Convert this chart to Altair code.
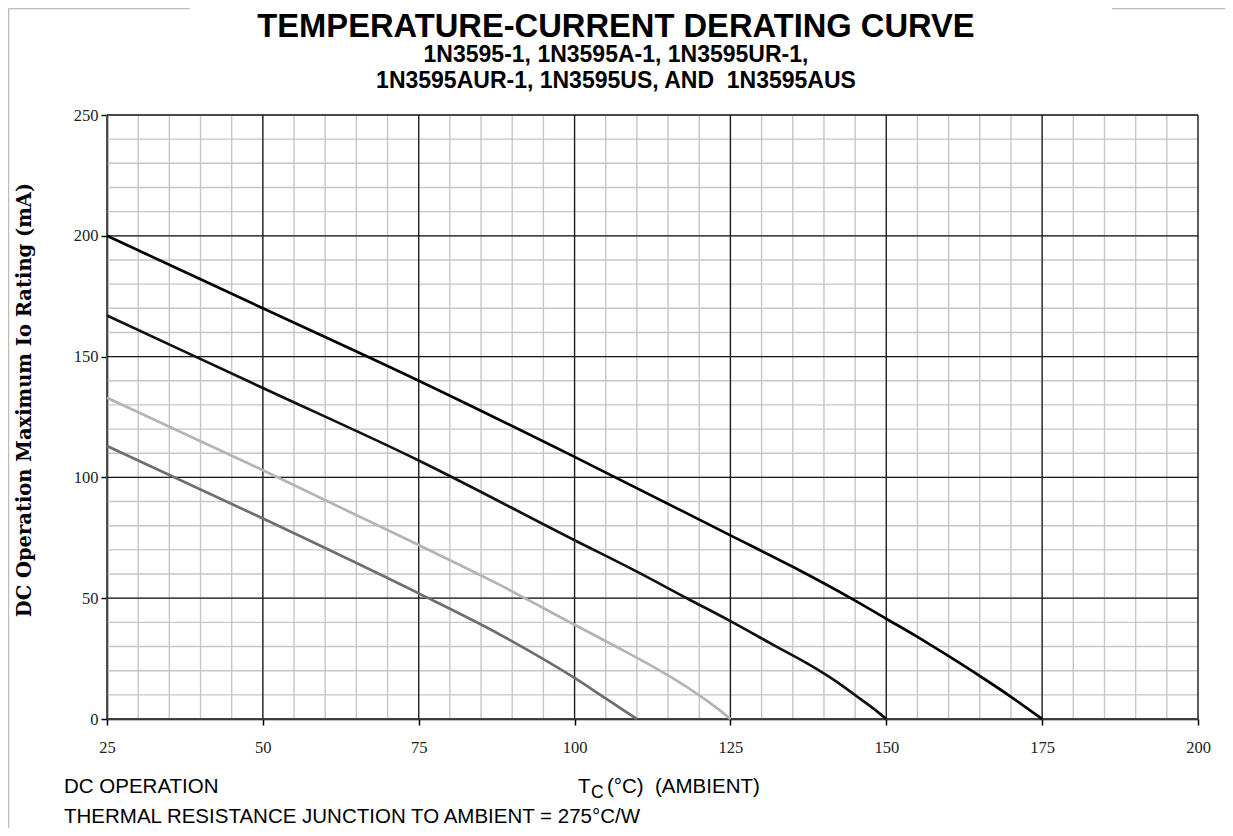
import altair as alt
import pandas as pd

# ---------------- data ----------------
curve_names = ["Curve A", "Curve B", "Curve C", "Curve D"]
curve_colors = ["#000000", "#111111", "#b4b4b4", "#6e6e6e"]

temp_a = [25, 50, 75, 100, 125, 135, 145, 150, 155, 160, 165, 170, 175]
io_a = [200, 170, 140, 108.5, 76, 63, 49, 41.5, 34, 26, 17.8, 9.2, 0]

temp_b = [25, 50, 75, 100, 110, 118, 125, 132, 138, 142, 146, 148, 150]
io_b = [167, 137, 107, 74, 61, 50, 40.5, 30.5, 22, 15.5, 8, 4.2, 0]

temp_c = [25, 50, 75, 88, 100, 107, 112, 116, 120, 123, 125]
io_c = [133, 103, 72, 55.5, 39, 29.5, 22.5, 16.5, 9.8, 4.2, 0]

temp_d = [25, 50, 75, 88, 95, 100, 105, 108, 110]
io_d = [113, 83, 52, 35, 24.8, 17, 8.5, 3.4, 0]

x_major_ticks = [25, 50, 75, 100, 125, 150, 175, 200]
y_major_ticks = [0, 50, 100, 150, 200, 250]
x_minor_ticks = [25, 30, 35, 40, 45, 50, 55, 60, 65, 70, 75, 80, 85, 90, 95, 100,
                 105, 110, 115, 120, 125, 130, 135, 140, 145, 150, 155, 160, 165,
                 170, 175, 180, 185, 190, 195, 200]
y_minor_ticks = [0, 10, 20, 30, 40, 50, 60, 70, 80, 90, 100, 110, 120, 130, 140,
                 150, 160, 170, 180, 190, 200, 210, 220, 230, 240, 250]

title_text = "TEMPERATURE-CURRENT DERATING CURVE"
subtitle_1 = "1N3595-1, 1N3595A-1, 1N3595UR-1,"
subtitle_2 = "1N3595AUR-1, 1N3595US, AND\u00a0 1N3595AUS"
y_title = "DC Operation Maximum Io Rating (mA)"
note_1 = "DC OPERATION"
note_2 = "THERMAL RESISTANCE JUNCTION TO AMBIENT = 275\u00b0C/W"
x_title_main = "T"
x_title_sub = "C"
x_title_rest = "(\u00b0C)\u00a0 (AMBIENT)"

# ---------------- tables ----------------
rows = []
for name, ts, vs in zip(curve_names, [temp_a, temp_b, temp_c, temp_d],
                        [io_a, io_b, io_c, io_d]):
    for t, v in zip(ts, vs):
        rows.append({"curve": name, "temp": t, "io": v})
curves = pd.DataFrame(rows)

W, H = 1091, 604

xs = alt.Scale(domain=[25, 200], nice=False, zero=False)
ys = alt.Scale(domain=[0, 250], nice=False, zero=True)

x_axis = alt.Axis(values=x_major_ticks, grid=False, title=None,
                  domain=True, domainColor="#000000", domainWidth=1.5,
                  ticks=True, tickColor="#000000", tickWidth=1.5, tickSize=6,
                  labelFont="Liberation Serif", labelFontSize=16.5,
                  labelColor="#222222", labelPadding=14, labelFlush=False)
y_axis = alt.Axis(values=y_major_ticks, grid=False, title=None,
                  domain=True, domainColor="#000000", domainWidth=1.5,
                  ticks=True, tickColor="#000000", tickWidth=1.5, tickSize=6,
                  labelFont="Liberation Serif", labelFontSize=16.5,
                  labelColor="#222222", labelPadding=3)

minor_x = alt.Chart(pd.DataFrame({"v": x_minor_ticks})).mark_rule(
    color="#c6c6c6", strokeWidth=1.4).encode(x=alt.X("v:Q", scale=xs, axis=x_axis))
minor_y = alt.Chart(pd.DataFrame({"v": y_minor_ticks})).mark_rule(
    color="#c6c6c6", strokeWidth=1.4).encode(y=alt.Y("v:Q", scale=ys, axis=y_axis))
major_x = alt.Chart(pd.DataFrame({"v": x_major_ticks})).mark_rule(
    color="#1a1a1a", strokeWidth=1.3).encode(x=alt.X("v:Q", scale=xs, axis=x_axis))
major_y = alt.Chart(pd.DataFrame({"v": y_major_ticks})).mark_rule(
    color="#1a1a1a", strokeWidth=1.3).encode(y=alt.Y("v:Q", scale=ys, axis=y_axis))

lines = alt.Chart(curves).mark_line(strokeWidth=2.7, interpolate="monotone").encode(
    x=alt.X("temp:Q", scale=xs, axis=x_axis),
    y=alt.Y("io:Q", scale=ys, axis=y_axis),
    color=alt.Color("curve:N", scale=alt.Scale(domain=curve_names, range=curve_colors),
                    legend=None),
    detail="curve:N",
)

one = pd.DataFrame({"k": [0]})


def label(text, x, y, size, font="Liberation Sans", weight="normal", align="left",
          baseline="alphabetic", angle=0, color="#000000"):
    return alt.Chart(one).mark_text(
        text=text, font=font, fontSize=size, fontWeight=weight, align=align,
        baseline=baseline, angle=angle, color=color,
    ).encode(x=alt.value(x), y=alt.value(y))


# plot-area-relative positions (plot top-left is the origin)
texts = [
    label(title_text, 509, -104.5, 32.7, weight="bold", align="center",
          baseline="top"),
    label(subtitle_1, 509, -53, 23, weight="bold", align="center"),
    label(subtitle_2, 509, -27, 23, weight="bold", align="center"),
    label(y_title, -82, 285, 19.5, font="DejaVu Serif", weight="bold",
          align="center", baseline="middle", angle=270),
    label(note_1, -43, 678, 20.5),
    label(note_2, -43, 708, 20.5),
    label(x_title_main, 471, 678, 20.5),
    label(x_title_sub, 484, 683, 17.5),
    label(x_title_rest, 500, 678, 20.5),
]

frame = [
    alt.Chart(one).mark_rule(color="#bdbdbd", strokeWidth=1.5).encode(
        x=alt.value(-98.5), y=alt.value(-106.5), y2=alt.value(H + 120)),
    alt.Chart(one).mark_rule(color="#bdbdbd", strokeWidth=1.5).encode(
        x=alt.value(-98.5), x2=alt.value(83), y=alt.value(-106.5)),
    alt.Chart(one).mark_rule(color="#bdbdbd", strokeWidth=1.5).encode(
        x=alt.value(1005), x2=alt.value(1130), y=alt.value(-106.5)),
]

chart = alt.layer(
    minor_x, minor_y, major_x, major_y, lines, *texts, *frame
).properties(
    width=W, height=H,
    autosize=alt.AutoSizeParams(type="none"),
    padding={"left": 99, "top": 107, "right": 27, "bottom": 109},
    background="#ffffff",
).configure_view(stroke=None)

chart.save("out.html", embed_options={"renderer": "svg", "actions": False})
